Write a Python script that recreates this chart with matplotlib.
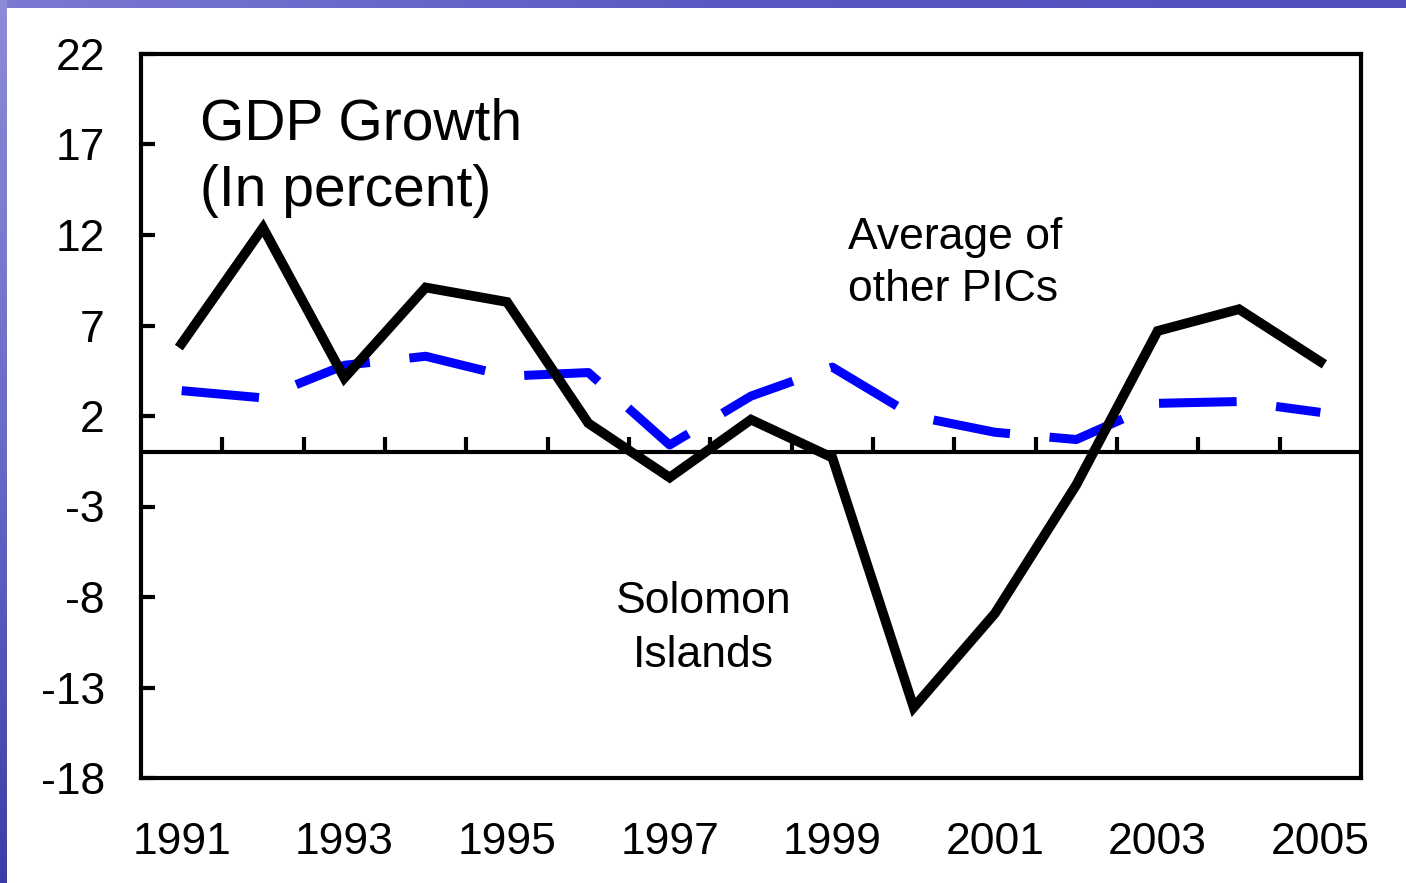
import numpy as np
import matplotlib
matplotlib.use('Agg')
import matplotlib.pyplot as plt

plt.rcParams['font.family'] = ['Liberation Sans', 'DejaVu Sans']

years = list(range(1991, 2006))
solomon = [6.0, 12.4, 4.1, 9.1, 8.3, 1.6, -1.4, 1.8, -0.3, -14.1, -8.9, -1.8, 6.7, 7.9, 5.0]
pics_avg = [3.4, 3.0, 4.8, 5.3, 4.2, 4.4, 0.4, 3.1, 4.7, 2.0, 1.1, 0.7, 2.7, 2.8, 2.2]
yticks = [-18, -13, -8, -3, 2, 7, 12, 17, 22]
xlabel_years = years[::2]

fig = plt.figure(figsize=(14.06, 8.83), dpi=100)
fig.patch.set_facecolor('white')

# slide border (blue gradient strips on the top and left)
top_band = fig.add_axes([0, 1 - 8 / 883, 1, 8 / 883])
top_band.imshow(np.linspace(0, 1, 256).reshape(1, -1), aspect='auto',
                cmap=matplotlib.colors.LinearSegmentedColormap.from_list('b1', ['#7a7ad2', '#5a5ac4', '#4f4fc0']))
top_band.axis('off')
left_band = fig.add_axes([0, 0, 7 / 1406, 1])
left_band.imshow(np.linspace(0, 1, 256).reshape(-1, 1), aspect='auto',
                 cmap=matplotlib.colors.LinearSegmentedColormap.from_list('b2', ['#8c8cd8', '#6a6ac8', '#3c3ca8']))
left_band.axis('off')

ax = fig.add_axes([141 / 1406, 1 - 778 / 883, 1220 / 1406, 724 / 883])
x = np.arange(len(years))

ax.plot(x, pics_avg, color='#0000ff', lw=6.5, dashes=(8.6, 4.4), solid_joinstyle='miter')
ax.plot(x, solomon, color='black', lw=7, solid_joinstyle='miter')

ax.axhline(0, color='black', lw=3)
ax.vlines(x[:-1] + 0.5, 0, 0.85, color='black', lw=3)

ax.set_xlim(-0.5, len(years) - 0.5)
ax.set_ylim(-18, 22)
ax.set_yticks(yticks)
ax.set_yticklabels([str(v) for v in yticks])
ax.set_xticks(x[::2])
ax.set_xticklabels([str(y) for y in xlabel_years])
ax.tick_params(axis='y', direction='in', length=10, width=3, labelsize=32, pad=26)
ax.tick_params(axis='x', length=0, labelsize=32, pad=32)
for s in ax.spines.values():
    s.set_linewidth(3)

ax.text(0.048, 0.94, 'GDP Growth\n(In percent)', transform=ax.transAxes,
        fontsize=41, va='top', ha='left', linespacing=1.3)
ax.text(0.5795, 0.775, 'Average of\nother PICs', transform=ax.transAxes,
        fontsize=32, va='top', ha='left', linespacing=1.35)
ax.text(0.461, 0.272, 'Solomon\nIslands', transform=ax.transAxes,
        fontsize=32, va='top', ha='center', linespacing=1.4)

fig.savefig('out.png', dpi=100, facecolor='white')
